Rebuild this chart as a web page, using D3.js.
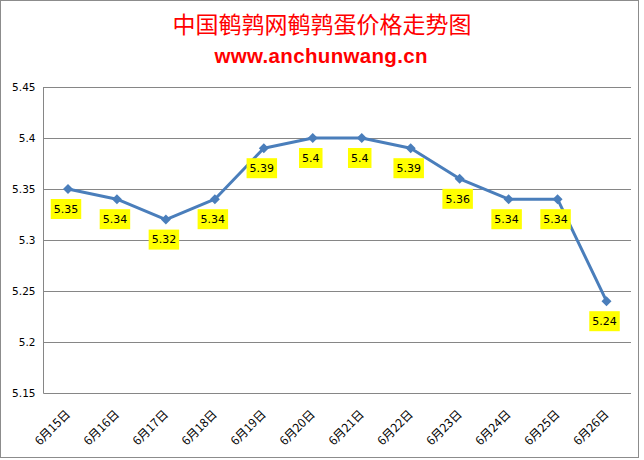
<!DOCTYPE html>
<html><head><meta charset="utf-8">
<script src="https://cdn.jsdelivr.net/npm/d3@7"></script>
<style>body{margin:0;background:#fff}svg{display:block}</style>
</head><body><svg id="c" width="644" height="460"></svg>
<script>
const categories = ["6月15日","6月16日","6月17日","6月18日","6月19日","6月20日","6月21日","6月22日","6月23日","6月24日","6月25日","6月26日"];
const prices = [5.35,5.34,5.32,5.34,5.39,5.4,5.4,5.39,5.36,5.34,5.34,5.24];
const yTicks = [5.15,5.2,5.25,5.3,5.35,5.4,5.45];
const titleText = "中国鹌鹑网鹌鹑蛋价格走势图";
const subtitleText = "www.anchunwang.cn";

const svg = d3.select("#c");
svg.append("rect").attr("x",0.5).attr("y",0.5).attr("width",638).attr("height",457)
  .attr("fill","#fff").attr("stroke","#8c8c8c").attr("stroke-width",1);

const L=43.5, R=631, T=87, B=393;
const x = d3.scaleBand().domain(categories).range([L,R]);
const y = d3.scaleLinear().domain([5.15,5.45]).range([B,T]);

svg.append("text").attr("x",322).attr("y",33).attr("text-anchor","middle")
  .attr("font-family","Noto Sans CJK SC").attr("font-size",23).attr("fill","#ff0000").text(titleText);
svg.append("text").attr("x",321).attr("y",63).attr("text-anchor","middle")
  .attr("font-family","Liberation Sans").attr("font-weight","bold").attr("font-size",20.5)
  .attr("textLength",213).attr("fill","#ff0000").text(subtitleText);

// gridlines
svg.append("g").selectAll("line").data(yTicks).join("line")
  .attr("x1",L).attr("x2",R).attr("y1",d=>Math.round(y(d))+0.5).attr("y2",d=>Math.round(y(d))+0.5)
  .attr("stroke","#868686").attr("stroke-width",1);
svg.append("line").attr("x1",L).attr("x2",L).attr("y1",T).attr("y2",B+0.5).attr("stroke","#868686");

const yAxis = d3.axisLeft(y).tickValues(yTicks).tickSize(0).tickPadding(8).tickFormat(d=>String(+d.toFixed(2)));
const gy = svg.append("g").attr("transform",`translate(${L},0)`).call(yAxis);
gy.select(".domain").remove();
gy.selectAll("text").attr("font-family","DejaVu Sans").attr("font-size",10.5).attr("fill","#000");

const xAxis = d3.axisBottom(x).tickSize(0).tickPadding(0);
const gx = svg.append("g").attr("transform",`translate(0,${B})`).call(xAxis);
gx.select(".domain").remove();
gx.selectAll("text").attr("font-family","Noto Sans CJK SC").attr("font-size",12).attr("fill","#000")
  .attr("text-anchor","end").attr("dy",0)
  .attr("transform","translate(3,22) rotate(-45)");

const cx = d => x(d) + x.bandwidth()/2;
const line = d3.line().x((d,i)=>cx(categories[i])).y(d=>y(d)).curve(d3.curveLinear);
svg.append("path").datum(prices).attr("d",line).attr("fill","none")
  .attr("stroke","#4a7ebb").attr("stroke-width",3).attr("stroke-linejoin","round");

svg.append("g").selectAll("path").data(prices).join("path")
  .attr("d","M0,-5L5,0L0,5L-5,0Z").attr("fill","#4a7ebb")
  .attr("transform",(d,i)=>`translate(${cx(categories[i])},${y(d)})`);

const lg = svg.append("g").selectAll("g").data(prices).join("g")
  .attr("transform",(d,i)=>`translate(${cx(categories[i])-2},${y(d)+20})`);
lg.each(function(d){
  const g = d3.select(this);
  const t = g.append("text").attr("text-anchor","middle").attr("dy","0.35em")
    .attr("font-family","DejaVu Sans").attr("font-size",11).attr("fill","#000").text(String(d));
  const w = t.node().getComputedTextLength();
  g.insert("rect","text").attr("x",-w/2-3).attr("y",-10).attr("width",w+6).attr("height",20).attr("fill","#ffff00");
});
</script></body></html>
